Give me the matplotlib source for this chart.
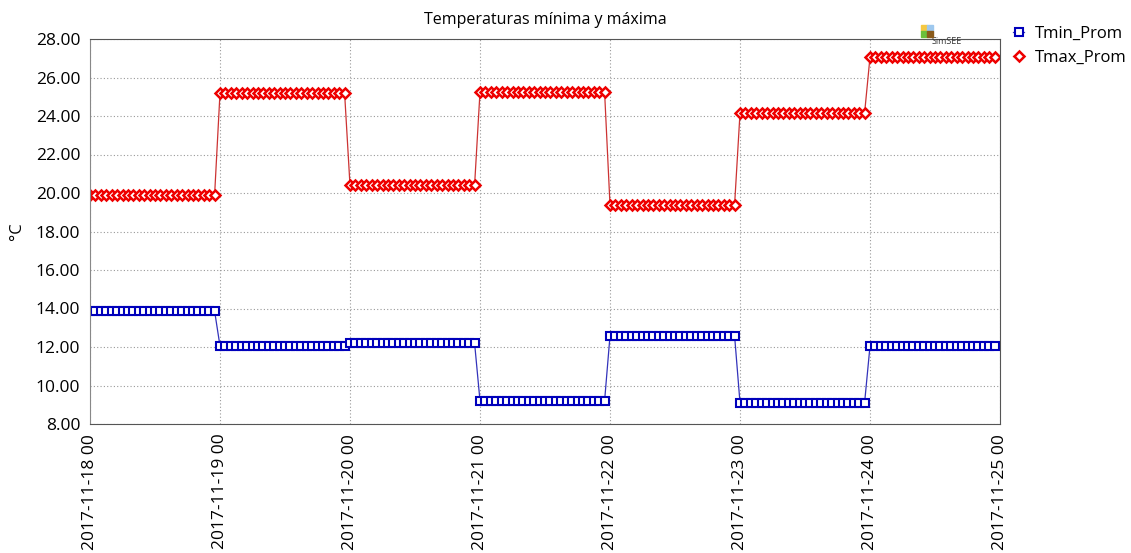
import matplotlib
matplotlib.use("Agg")
import matplotlib.pyplot as plt
import matplotlib.dates as mdates
import numpy as np
import pandas as pd
from matplotlib.patches import Rectangle

# Daily values (each day holds 24 hourly points)
days = ["2017-11-18", "2017-11-19", "2017-11-20", "2017-11-21",
        "2017-11-22", "2017-11-23", "2017-11-24"]
tmin_daily = [13.87, 12.05, 12.20, 9.20, 12.58, 9.10, 12.05]
tmax_daily = [19.88, 25.20, 20.40, 25.25, 19.38, 24.15, 27.06]
tick_days = ["2017-11-18", "2017-11-19", "2017-11-20", "2017-11-21",
             "2017-11-22", "2017-11-23", "2017-11-24", "2017-11-25"]

times = pd.date_range(days[0], periods=len(days) * 24, freq="h")
tmin = np.repeat(tmin_daily, 24)
tmax = np.repeat(tmax_daily, 24)

plt.rcParams['font.family'] = ['Open Sans', 'DejaVu Sans']

fig = plt.figure(figsize=(11.31, 5.53), dpi=100)
ax = fig.add_axes([90 / 1131, 1 - 424 / 553, 910 / 1131, 385 / 553])

ax.plot(times, tmin, color="#3333bb", lw=0.9, marker="s", ms=5.5, mfc="white",
        mec="#0000bb", mew=1.5, label="Tmin_Prom")
ax.plot(times, tmax, color="#cc3333", lw=0.9, marker="D", ms=5.5, mfc="white",
        mec="#ee0000", mew=1.8, label="Tmax_Prom")

ax.set_ylim(8, 28)
yt = np.arange(8, 28.1, 2)
ax.set_yticks(yt)
ax.set_yticklabels([f"{v:.2f}" for v in yt], fontsize=12.5)
ticks = pd.to_datetime(tick_days)
ax.set_xlim(ticks[0], ticks[-1])
ax.set_xticks(ticks)
ax.set_xticklabels([t.strftime("%Y-%m-%d %H") for t in ticks], rotation=90, fontsize=12.5)
ax.tick_params(length=0, pad=7)
ax.grid(True, color="#999999", ls=(0, (1, 2)), lw=0.8)
for side in ["top", "bottom", "right"]:
    ax.spines[side].set_color("#555555")
ax.spines["left"].set_color("#888888")
ax.spines["left"].set_linestyle((0, (1, 1)))

ax.set_title("Temperaturas mínima y máxima", fontsize=11.5, pad=11)
ax.set_ylabel("°C", fontsize=12, labelpad=8)

ax.legend(loc="upper left", bbox_to_anchor=(1.003, 1.06), frameon=False,
          fontsize=12, handlelength=0.7, handletextpad=0.6, labelspacing=0.45,
          borderaxespad=0.2)

# SimSEE logo
cols = [("#f5c842", 921, 25), ("#9ec8ee", 927, 25), ("#6cbf3a", 921, 31), ("#8a5a1a", 927, 31)]
for c, x, y in cols:
    fig.patches.append(Rectangle((x / 1131, 1 - (y + 6) / 553), 6 / 1131, 6 / 553,
                                 transform=fig.transFigure, color=c, zorder=10))
fig.text(932 / 1131, 1 - 41 / 553, "SimSEE", fontsize=6.5, va="center", ha="left", color="#333333")

fig.savefig("out.png", dpi=100)
